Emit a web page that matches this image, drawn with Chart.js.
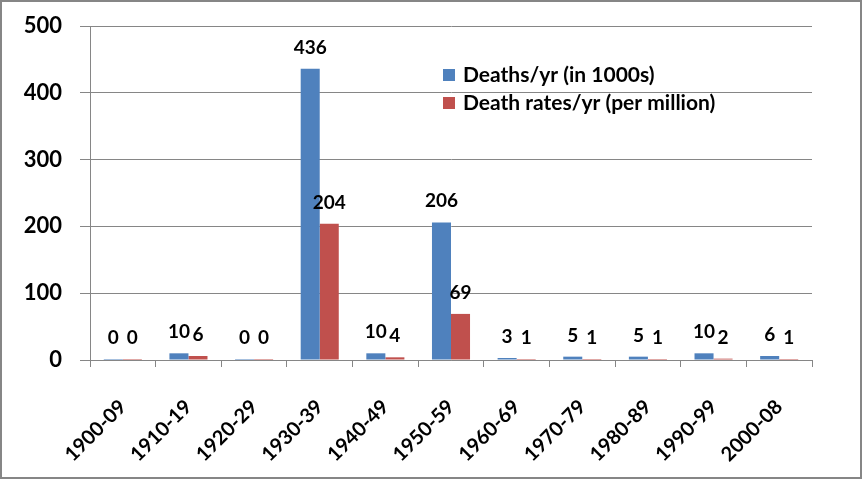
<!DOCTYPE html>
<html>
<head>
<meta charset="utf-8">
<script src="https://cdn.jsdelivr.net/npm/chart.js@4.4.1/dist/chart.umd.min.js"></script>
<style>
  html, body { margin: 0; padding: 0; background: #fff; }
  #wrap { width: 862px; height: 479px; position: relative; }
</style>
</head>
<body>
<div id="wrap"><canvas id="grafica"></canvas></div>
<script>
// datos
var decadas = ['1900-09', '1910-19', '1920-29', '1930-39', '1940-49', '1950-59',
               '1960-69', '1970-79', '1980-89', '1990-99', '2000-08'];
var muertes = [0, 10, 0, 436, 10, 206, 3, 5, 5, 10, 6];
var tasas = [0, 6, 0, 204, 4, 69, 1, 1, 1, 2, 1];
var nombreMuertes = 'Deaths/yr (in 1000s)';
var nombreTasas = 'Death rates/yr (per million)';
var ticksY = [0, 100, 200, 300, 400, 500];

var fuente = 'Lato, "Open Sans", sans-serif';
var gris = '#868686';

// etiquetas encima de cada barra
var etiquetas = {
    id: 'etiquetas',
    afterDatasetsDraw: function(chart) {
        var ctx = chart.ctx;
        ctx.save();
        ctx.font = 'bold 19px ' + fuente;
        ctx.fillStyle = '#000';
        ctx.textAlign = 'center';
        ctx.textBaseline = 'alphabetic';
        chart.data.datasets.forEach(function(ds, i) {
            chart.getDatasetMeta(i).data.forEach(function(bar, j) {
                ctx.fillText(ds.data[j], bar.x, bar.y - 15);
            });
        });
        ctx.restore();
    }
};

// leyenda dentro del area del grafico y marco exterior
var leyenda = {
    id: 'leyenda',
    afterDraw: function(chart) {
        var ctx = chart.ctx;
        ctx.save();
        ctx.font = 'bold 21px ' + fuente;
        ctx.textBaseline = 'middle';
        ctx.textAlign = 'left';
        chart.data.datasets.forEach(function(ds, i) {
            var y = 75 + i * 28;
            ctx.fillStyle = ds.backgroundColor;
            ctx.fillRect(443, y - 6, 12, 12);
            ctx.fillStyle = '#000';
            ctx.fillText(ds.label, 463, y);
        });
        ctx.strokeStyle = gris;
        ctx.lineWidth = 2;
        ctx.strokeRect(1, 1, 860, 477);
        ctx.restore();
    }
};

var ctx = document.getElementById('grafica').getContext('2d');
var grafica = new Chart(ctx, {
    type: 'bar',
    data: {
        labels: decadas,
        datasets: [{
            label: nombreMuertes,
            data: muertes,
            backgroundColor: '#4F81BD',
            minBarLength: 1
        }, {
            label: nombreTasas,
            data: tasas,
            backgroundColor: '#C0504D',
            minBarLength: 1
        }]
    },
    options: {
        responsive: true,
        maintainAspectRatio: false,
        animation: false,
        layout: { padding: { top: 26, right: 50, bottom: 0, left: 0 } },
        datasets: { bar: { categoryPercentage: 0.58, barPercentage: 1 } },
        plugins: {
            legend: { display: false },
            tooltip: { enabled: false }
        },
        scales: {
            x: {
                afterFit: function(scale) {
                    scale.height = 119;
                    scale.paddingLeft = 0;
                    scale.paddingRight = 0;
                },
                grid: {
                    offset: true,
                    drawOnChartArea: false,
                    color: gris,
                    tickLength: 7
                },
                border: { color: gris, width: 1 },
                ticks: {
                    minRotation: 45,
                    maxRotation: 45,
                    padding: 28,
                    color: '#000',
                    font: { family: fuente, size: 20, weight: 'bold' }
                }
            },
            y: {
                min: 0,
                max: 500,
                afterFit: function(scale) {
                    scale.width = 90;
                    scale.paddingTop = 0;
                    scale.paddingBottom = 0;
                },
                afterBuildTicks: function(scale) {
                    scale.ticks = ticksY.map(function(v) { return { value: v }; });
                },
                grid: { color: gris, tickLength: 10 },
                border: { color: gris, width: 1 },
                ticks: {
                    padding: 18,
                    color: '#000',
                    font: { family: fuente, size: 22, weight: 'bold' }
                }
            }
        }
    },
    plugins: [etiquetas, leyenda]
});
</script>
</body>
</html>
